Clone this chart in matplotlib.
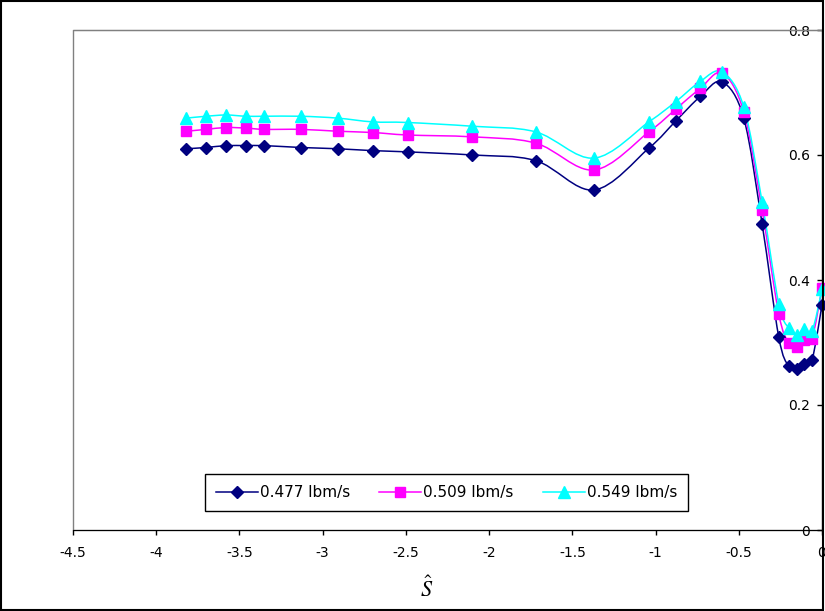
import numpy as np
import matplotlib
matplotlib.use("Agg")
import matplotlib.pyplot as plt
from matplotlib.path import Path
from matplotlib.patches import PathPatch, Rectangle
from matplotlib.lines import Line2D

plt.rcParams["font.family"] = ["DejaVu Sans"]
plt.rcParams["mathtext.fontset"] = "stix"

# surface position and values for the three mass flow rates
s_hat = [-3.82, -3.70, -3.58, -3.46, -3.35, -3.13, -2.91, -2.70, -2.49, -2.10,
         -1.72, -1.37, -1.04, -0.88, -0.73, -0.60, -0.47, -0.36, -0.26, -0.20,
         -0.15, -0.11, -0.06, 0.0]
flow_477 = [0.610, 0.612, 0.615, 0.615, 0.615, 0.612, 0.610, 0.607, 0.605, 0.600,
            0.591, 0.544, 0.611, 0.654, 0.694, 0.717, 0.659, 0.490, 0.309, 0.262,
            0.258, 0.266, 0.272, 0.360]
flow_509 = [0.638, 0.641, 0.644, 0.643, 0.641, 0.641, 0.638, 0.636, 0.632, 0.629,
            0.619, 0.576, 0.637, 0.673, 0.707, 0.731, 0.669, 0.512, 0.346, 0.299,
            0.293, 0.304, 0.306, 0.387]
flow_549 = [0.659, 0.662, 0.664, 0.662, 0.662, 0.662, 0.659, 0.653, 0.652, 0.646,
            0.637, 0.595, 0.653, 0.685, 0.718, 0.733, 0.677, 0.525, 0.362, 0.323,
            0.312, 0.322, 0.318, 0.385]
labels = ["0.477 lbm/s", "0.509 lbm/s", "0.549 lbm/s"]
colors = ["#000080", "#FF00FF", "#00FFFF"]
markers = ["D", "s", "^"]
msizes = [6.5, 6.5, 8]


def smooth_path(xs, ys):
    # Catmull-Rom style bezier through the points (spreadsheet "smoothed line")
    pts = np.column_stack([xs, ys])
    n = len(pts)
    verts = [pts[0]]
    codes = [Path.MOVETO]
    for i in range(n - 1):
        p0 = pts[max(i - 1, 0)]
        p1 = pts[i]
        p2 = pts[i + 1]
        p3 = pts[min(i + 2, n - 1)]
        verts += [p1 + (p2 - p0) / 6, p2 - (p3 - p1) / 6, p2]
        codes += [Path.CURVE4] * 3
    return Path(verts, codes)


fig = plt.figure(figsize=(8.25, 6.11), dpi=100)
ax = fig.add_axes([73 / 825, 1 - 530 / 611, 749 / 825, 500 / 611])

handles = []
for ys, c, m, ms, lab in zip([flow_477, flow_509, flow_549], colors, markers, msizes, labels):
    ax.add_patch(PathPatch(smooth_path(s_hat, ys), facecolor="none", edgecolor=c,
                           lw=1.1, zorder=3))
    ax.plot(s_hat, ys, linestyle="none", marker=m, ms=ms, color=c, zorder=4,
            clip_on=False)
    handles.append(Line2D([], [], color=c, lw=1.1, marker=m, ms=ms, label=lab))

ax.set_xlim(-4.5, 0)
ax.set_ylim(0, 0.8)
ax.set_xticks(np.arange(-4.5, 0.01, 0.5))
ax.set_xticklabels(["-4.5", "-4", "-3.5", "-3", "-2.5", "-2", "-1.5", "-1", "-0.5", "0"])
ax.set_yticks([0, 0.2, 0.4, 0.6, 0.8])
ax.set_yticklabels(["0", "0.2", "0.4", "0.6", "0.8"])

# value axis sits at s = 0, plot frame in grey
ax.spines["left"].set_position(("data", 0))
ax.spines["left"].set_color("black")
ax.spines["right"].set_visible(False)
ax.spines["top"].set_color("#808080")
ax.spines["bottom"].set_color("black")
ax.add_patch(Rectangle((0, 0), 1, 1, transform=ax.transAxes, fill=False,
                       edgecolor="#808080", lw=1, zorder=0, clip_on=False))
ax.tick_params(axis="both", direction="out", length=3.5, width=1, labelsize=10,
               colors="black")
ax.tick_params(axis="x", pad=8)
ax.tick_params(axis="y", pad=5)

fig.text(427 / 825, 1 - 588 / 611, r"$\hat{S}$", fontsize=16, ha="center", va="center")

fig.legend(handles=handles, loc="center", bbox_to_anchor=(446.5 / 825, 1 - 492.5 / 611),
           ncol=3, fontsize=11, frameon=True, fancybox=False, edgecolor="black",
           framealpha=1, handlelength=2.75, handletextpad=0.15, columnspacing=1.9,
           borderpad=0.7)

fig.patches.append(Rectangle((0.001, 0.001), 0.997, 0.997, transform=fig.transFigure,
                             fill=False, edgecolor="black", lw=1.5))

fig.savefig("out.png", dpi=100)
